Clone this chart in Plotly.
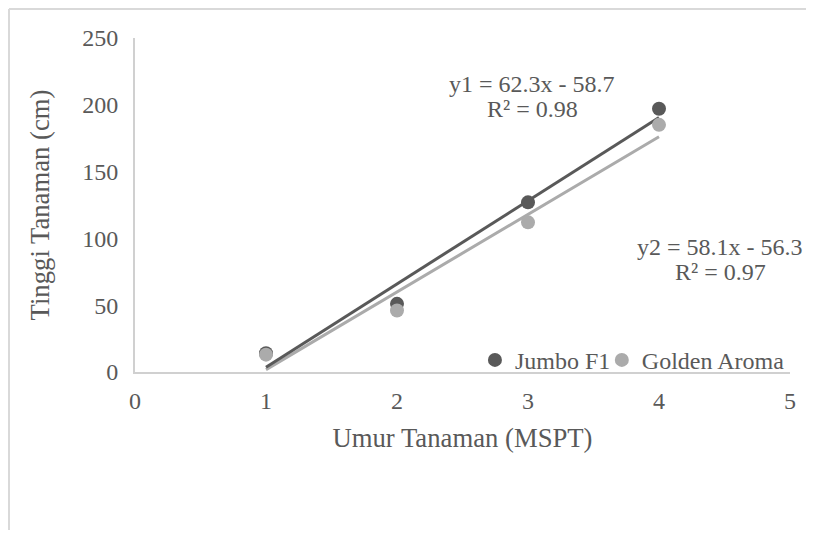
import plotly.graph_objects as go

# Data
umur = [1, 2, 3, 4]
jumbo_f1 = [14, 51, 127, 197]
golden_aroma = [13, 46, 112, 185]

# Trendline coefficients (from the equations shown)
jumbo_slope, jumbo_intercept = 62.3, -58.7
golden_slope, golden_intercept = 58.1, -56.3

eq1_lines = ["y1 = 62.3x - 58.7", "R² = 0.98"]
eq2_lines = ["y2 = 58.1x - 56.3", "R² = 0.97"]

x_ticks = [0, 1, 2, 3, 4, 5]
y_ticks = [0, 50, 100, 150, 200, 250]

DARK = "#595959"
LIGHT = "#ababab"
TXT = "#595959"
FONT = "Liberation Serif"

x_line = [min(umur), max(umur)]
jumbo_fit = [jumbo_slope * x + jumbo_intercept for x in x_line]
golden_fit = [golden_slope * x + golden_intercept for x in x_line]

fig = go.Figure()
fig.add_trace(go.Scatter(x=x_line, y=golden_fit, mode="lines",
                         line=dict(color=LIGHT, width=3), showlegend=False, hoverinfo="skip"))
fig.add_trace(go.Scatter(x=x_line, y=jumbo_fit, mode="lines",
                         line=dict(color=DARK, width=3), showlegend=False, hoverinfo="skip"))
fig.add_trace(go.Scatter(x=umur, y=jumbo_f1, mode="markers", name="Jumbo F1",
                         marker=dict(color=DARK, size=14), legend="legend"))
fig.add_trace(go.Scatter(x=umur, y=golden_aroma, mode="markers", name="Golden Aroma",
                         marker=dict(color=LIGHT, size=14), legend="legend2"))

afont = dict(family=FONT, size=24, color=TXT)
fig.add_annotation(x=3.031, y=215.2, text=eq1_lines[0], showarrow=False, font=afont)
fig.add_annotation(x=3.031, y=197.2, text=eq1_lines[1], showarrow=False, font=afont)
fig.add_annotation(x=4.465, y=93.2, text=eq2_lines[0], showarrow=False, font=afont)
fig.add_annotation(x=4.472, y=75.2, text=eq2_lines[1], showarrow=False, font=afont)

# Chart border (top and left) like the reference
W, H = 798, 522
L, T, PW, PH = 127, 30, 655, 334
bl = (1 - L) / PW
bt = (T + PH - 1) / PH
fig.add_shape(type="line", xref="paper", yref="paper", x0=bl, x1=1.2, y0=bt, y1=bt,
              line=dict(color="#d9d9d9", width=2))
fig.add_shape(type="line", xref="paper", yref="paper", x0=bl, x1=bl, y0=bt, y1=-0.6,
              line=dict(color="#d9d9d9", width=2))

leg_common = dict(orientation="h", xanchor="left", y=0.035, yanchor="middle",
                  bgcolor="rgba(0,0,0,0)", font=dict(family=FONT, size=24, color=TXT),
                  itemwidth=30)

fig.update_layout(
    width=W, height=H,
    margin=dict(l=L, r=W - L - PW, t=T, b=H - T - PH, autoexpand=False),
    paper_bgcolor="white", plot_bgcolor="white",
    font=dict(family=FONT, size=24, color=TXT),
    showlegend=True,
    legend=dict(x=0.519, **leg_common),
    legend2=dict(x=0.7127, **leg_common),
    xaxis=dict(range=[0, 5], tickvals=x_ticks, showgrid=False, zeroline=False,
               showline=True, linecolor="#d0d0d0", linewidth=2, ticks="",
               ticklabelstandoff=6,
               tickfont=dict(family=FONT, size=24, color=TXT),
               title=dict(text="Umur Tanaman (MSPT)", standoff=16,
                          font=dict(family=FONT, size=26.7, color=TXT))),
    yaxis=dict(range=[0, 250], tickvals=y_ticks, showgrid=False, zeroline=False,
               showline=True, linecolor="#d0d0d0", linewidth=2, ticks="",
               ticklabelstandoff=10,
               tickfont=dict(family=FONT, size=24, color=TXT),
               title=dict(text="Tinggi Tanaman (cm)", standoff=25,
                          font=dict(family=FONT, size=26.7, color=TXT))),
)

fig.write_html("out.html")
